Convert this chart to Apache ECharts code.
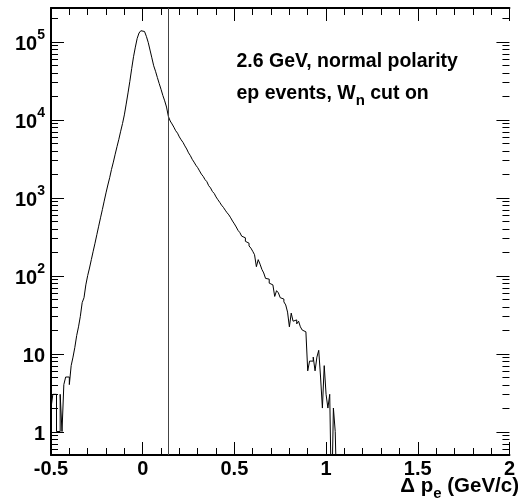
<!DOCTYPE html>
<html><head><meta charset="utf-8">
<script src="https://cdn.jsdelivr.net/npm/echarts@6/dist/echarts.min.js"></script>
<style>html,body{margin:0;padding:0;background:#fff}#c{width:518px;height:502px}</style>
</head><body><div id="c"></div>
<script>
// ---- data ----
const binStart = -0.5;      // left edge of first bin (GeV/c)
const binWidth = 0.01;      // bin width (GeV/c)
const counts = [
  2, 3, 3, 1, 1, 3, 1, 4, 5, 5,
  4, 7, 9, 12, 17, 22, 30, 45, 52, 76,
  100, 125, 160, 205, 260, 335, 430, 550, 700, 900,
  1150, 1450, 1800, 2300, 2850, 3600, 4500, 5600, 7100, 8900,
  11500, 15800, 22000, 31000, 45000, 64000, 85000, 110000, 129000, 138000,
  135000, 129000, 117000, 98000, 78000, 62000, 49000, 41700, 34700, 29000,
  24500, 20400, 17400, 14500, 11000, 9600, 8800, 8000, 7200, 6700,
  6000, 5500, 5100, 4600, 4200, 3750, 3450, 3100, 2850, 2600,
  2420, 2200, 2000, 1870, 1700, 1600, 1420, 1330, 1200, 1130,
  1020, 940, 870, 800, 750, 690, 640, 600, 550, 500,
  460, 420, 380, 355, 320, 305, 275, 260, 240, 225,
  205, 185, 130, 160, 140, 120, 108, 92, 90, 80,
  76, 72, 54, 64, 60, 52, 50, 46, 42, 34,
  22, 33, 26, 27, 24, 26, 22, 20, 19, 19,
  6, 8, 8, 9, 6, 9, 11, 5, 2, 7,
  3, 2, 3, 0, 2, 1, 0
];
const cutPosition = 0.145;
const xMin = -0.5, xMax = 2, xStep = 0.5;
const yMin = 0.5, yMax = 2.7e5;
const annotation1 = '2.6 GeV, normal polarity';
const annotation2a = 'ep events, W', annotation2sub = 'n', annotation2b = ' cut on';
const xTitleMain = 'Δ p', xTitleSub = 'e', xTitleTail = ' (GeV/c)';

// ---- build ----
const FONT = '"Liberation Sans", Arial, Helvetica, sans-serif';
const FLOOR = 0.1;
const histData = counts.map((c, i) => [binStart + i * binWidth, c > 0 ? c : FLOOR]);
histData.push([binStart + counts.length * binWidth, FLOOR]);

const yTicks = [];
for (let e = -1; e <= 6; e++) {
  for (let m = 1; m <= 9; m++) {
    const v = m * Math.pow(10, e);
    if (v >= yMin && v <= yMax) yTicks.push([xMin, v, m === 1 ? 13 : 7]);
  }
}

const chart = echarts.init(document.getElementById('c'), null, {renderer: 'canvas'});
chart.setOption({
  animation: false,
  backgroundColor: '#fff',
  grid: {left: 51, right: 0, top: 8, bottom: 47, containLabel: false},
  xAxis: [{
    type: 'value', position: 'bottom', min: xMin, max: xMax, interval: xStep,
    axisLine: {onZero: false, lineStyle: {color: '#000', width: 2}},
    axisTick: {inside: true, length: 13, lineStyle: {color: '#000', width: 1}},
    minorTick: {show: true, splitNumber: 5, length: 7, lineStyle: {color: '#000', width: 1}},
    splitLine: {show: false},
    axisLabel: {color: '#000', fontFamily: FONT, fontWeight: 'bold', fontSize: 20, margin: 4,
      alignMinLabel: 'center', alignMaxLabel: 'center', hideOverlap: false,
      formatter: v => String(Math.round(v * 10) / 10)}
  }, {
    type: 'value', position: 'top', min: xMin, max: xMax, interval: xStep,
    axisLine: {onZero: false, lineStyle: {color: '#000', width: 2}},
    axisTick: {inside: true, length: 13, lineStyle: {color: '#000', width: 1}},
    minorTick: {show: true, splitNumber: 5, length: 7, lineStyle: {color: '#000', width: 1}},
    splitLine: {show: false},
    axisLabel: {show: false}
  }],
  yAxis: [{
    type: 'log', logBase: 10, min: yMin, max: yMax, splitNumber: 6, position: 'left',
    axisLine: {onZero: false, lineStyle: {color: '#000', width: 2}},
    axisTick: {show: false},
    minorTick: {show: false},
    splitLine: {show: false},
    axisLabel: {
      margin: 6, color: '#000',
      formatter: function (v) {
        const l = Math.log10(v);
        const e = Math.round(l);
        if (Math.abs(l - e) > 1e-6) return '';
        if (e === 0) return '{b|1}';
        if (e === 1) return '{b|10}';
        return '{b|10}{s|' + e + '}';
      },
      rich: {
        b: {fontFamily: FONT, fontWeight: 'bold', fontSize: 20, lineHeight: 26, verticalAlign: 'bottom', color: '#000'},
        s: {fontFamily: FONT, fontWeight: 'bold', fontSize: 14, lineHeight: 13, verticalAlign: 'top', color: '#000'}
      }
    }
  }],
  series: [{
    type: 'line', xAxisIndex: 0, yAxisIndex: 0, data: histData, step: 'end',
    showSymbol: false, symbol: 'none', clip: true,
    lineStyle: {color: '#000', width: 1},
    markLine: {
      silent: true, symbol: ['none', 'none'], label: {show: false},
      lineStyle: {color: '#444', width: 1, type: 'solid'},
      data: [{xAxis: cutPosition}]
    },
    z: 3
  }, {
    type: 'custom', xAxisIndex: 0, yAxisIndex: 0, data: yTicks, clip: false,
    encode: {x: 0, y: 1},
    renderItem: function (params, api) {
      const cs = params.coordSys;
      const p = api.coord([api.value(0), api.value(1)]);
      const len = api.value(2);
      const y = Math.round(p[1]) + 0.5;
      return {type: 'group', children: [
        {type: 'line', shape: {x1: cs.x, y1: y, x2: cs.x + len, y2: y}, style: {stroke: '#000', lineWidth: 1}},
        {type: 'line', shape: {x1: cs.x + cs.width - len, y1: y, x2: cs.x + cs.width, y2: y}, style: {stroke: '#000', lineWidth: 1}}
      ]};
    },
    z: 4
  }],
  graphic: [{
    type: 'text', x: 236.5, y: 61.5, z: 10,
    style: {text: annotation1, font: 'bold 19.5px ' + FONT, fill: '#000', align: 'left', verticalAlign: 'middle'}
  }, {
    type: 'text', x: 236.5, y: 93.7, z: 10,
    style: {
      text: '{m|' + annotation2a + '}{s|' + annotation2sub + '}{m|' + annotation2b + '}',
      align: 'left', verticalAlign: 'middle',
      rich: {
        m: {fontFamily: FONT, fontWeight: 'bold', fontSize: 19.5, lineHeight: 30, fill: '#000', color: '#000'},
        s: {fontFamily: FONT, fontWeight: 'bold', fontSize: 15, lineHeight: 16, verticalAlign: 'bottom', fill: '#000', color: '#000'}
      }
    }
  }, {
    type: 'text', x: 519, y: 486, z: 10,
    style: {
      text: '{m|' + xTitleMain + '}{s|' + xTitleSub + '}{m|' + xTitleTail + '}',
      align: 'right', verticalAlign: 'middle',
      rich: {
        m: {fontFamily: FONT, fontWeight: 'bold', fontSize: 20.5, lineHeight: 30, fill: '#000', color: '#000'},
        s: {fontFamily: FONT, fontWeight: 'bold', fontSize: 15, lineHeight: 10, verticalAlign: 'bottom', fill: '#000', color: '#000'}
      }
    }
  }]
});
</script></body></html>
